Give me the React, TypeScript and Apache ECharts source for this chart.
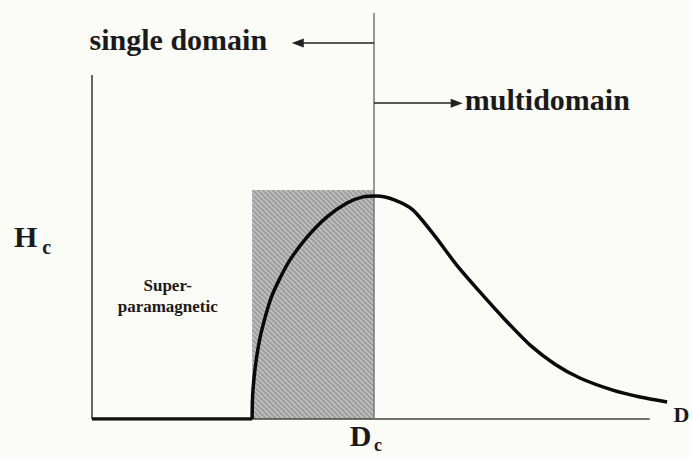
import React, { useEffect, useRef } from "react";
import * as echarts from "echarts";

// Coercivity H_c versus particle diameter D (schematic values, axis units 0-100)
const D_VALUES = [
  27.7, 27.77, 28.03, 28.46, 29.07, 29.93, 30.97, 32.53, 34.26, 37.2, 40.66, 44.12, 46.89, 49.3,
  52.4, 55.5, 59.3, 63.1, 67.1, 71.5, 75.8, 80.1, 84.4, 90.1, 94.8, 99.5,
];
const HC_VALUES = [
  0, 5.2, 10.1, 15.0, 20.0, 24.9, 29.8, 34.7, 39.2, 44.8, 49.8, 53.2, 54.7, 54.9,
  53.9, 51.5, 45.1, 37.9, 31.3, 24.4, 18.2, 13.5, 10.1, 7.1, 5.4, 4.2,
];
const BASELINE_D = [0, 27.7];
const BASELINE_HC = [0, 0];

// Key limits
const D_SP = 27.7; // superparamagnetic limit
const D_C = 48.8; // critical single-domain diameter
const RECT_TOP = 56.4;
const Y_AXIS_TOP = 84.7;
const X_AXIS_END = 96.5;
const SINGLE_ARROW_Y = 92.6;
const SINGLE_ARROW_END = 35.6;
const MULTI_ARROW_Y = 77.8;
const MULTI_ARROW_END = 63.1;

// Text labels and their anchors (data coordinates)
const LABEL_SINGLE = { text: "single domain", at: [30.3, 93.5] };
const LABEL_MULTI = { text: "multidomain", at: [64.5, 78.7] };
const LABEL_SUPER = { text: "Super-\nparamagnetic", at: [13.1, 30.2] };
const LABEL_H = { text: "H", at: [-13.5, 45.0] };
const LABEL_H_SUB = { text: "c", at: [-8.6, 42.3] };
const LABEL_DC = { text: "D", at: [44.6, -4.0] };
const LABEL_DC_SUB = { text: "c", at: [48.8, -6.3] };
const LABEL_D = { text: "D", at: [100.6, 1.2] };

const FONT = '"Liberation Serif", "DejaVu Serif", serif';

function makeHatch() {
  const s = 5;
  const c = document.createElement("canvas");
  c.width = s;
  c.height = s;
  const ctx = c.getContext("2d")!;
  ctx.fillStyle = "#9e9e9e";
  ctx.fillRect(0, 0, s, s);
  ctx.strokeStyle = "#c6c6c6";
  ctx.lineWidth = 1.3;
  ctx.beginPath();
  ctx.moveTo(-1, -1);
  ctx.lineTo(s + 1, s + 1);
  ctx.moveTo(-1, s - 1);
  ctx.lineTo(1, s + 1);
  ctx.moveTo(s - 1, -1);
  ctx.lineTo(s + 1, 1);
  ctx.stroke();
  return c;
}

export default function App() {
  const ref = useRef<HTMLDivElement>(null);

  useEffect(() => {
    if (!ref.current) return;
    const chart = echarts.init(ref.current, undefined, { renderer: "svg" });
    const hatch = makeHatch();
    const curve = D_VALUES.map((d, i) => [d, HC_VALUES[i]]);
    const base = BASELINE_D.map((d, i) => [d, BASELINE_HC[i]]);

    chart.setOption({
      animation: false,
      backgroundColor: "#fbfbf8",
      grid: { left: 92, top: 13, width: 578, height: 406 },
      xAxis: {
        type: "value",
        min: 0,
        max: 100,
        axisLine: { show: false },
        axisTick: { show: false },
        axisLabel: { show: false },
        splitLine: { show: false },
      },
      yAxis: {
        type: "value",
        min: 0,
        max: 100,
        axisLine: { show: false },
        axisTick: { show: false },
        axisLabel: { show: false },
        splitLine: { show: false },
      },
      series: [
        {
          type: "line",
          data: base,
          symbol: "none",
          lineStyle: { color: "#111", width: 3.5 },
          z: 3,
          markLine: {
            silent: true,
            symbol: "none",
            label: { show: false },
            z: 2,
            data: [
              [
                { coord: [0, 0], lineStyle: { color: "#333", width: 1.5, type: "solid" } },
                { coord: [0, Y_AXIS_TOP] },
              ],
              [
                { coord: [0, 0], lineStyle: { color: "#444", width: 1.5, type: "solid" } },
                { coord: [X_AXIS_END, 0] },
              ],
              [
                { coord: [D_C, 0], lineStyle: { color: "#777", width: 1.5, type: "solid" } },
                { coord: [D_C, 100] },
              ],
              [
                {
                  coord: [D_C, SINGLE_ARROW_Y],
                  symbol: "none",
                  lineStyle: { color: "#222", width: 1.5, type: "solid" },
                },
                { coord: [SINGLE_ARROW_END, SINGLE_ARROW_Y], symbol: "triangle", symbolSize: [9, 12] },
              ],
              [
                {
                  coord: [D_C, MULTI_ARROW_Y],
                  symbol: "none",
                  lineStyle: { color: "#222", width: 1.5, type: "solid" },
                },
                { coord: [MULTI_ARROW_END, MULTI_ARROW_Y], symbol: "triangle", symbolSize: [9, 12] },
              ],
            ],
          },
        },
        {
          type: "line",
          data: curve,
          symbol: "none",
          smooth: 0.25,
          lineStyle: { color: "#0a0a0a", width: 3.5 },
          z: 4,
          markArea: {
            silent: true,
            itemStyle: { color: { image: hatch, repeat: "repeat" } as any, borderWidth: 0 },
            data: [[{ coord: [D_SP, 0] }, { coord: [D_C, RECT_TOP] }]],
          },
        },
      ],
    });

    const px = (p: number[]) => chart.convertToPixel({ gridIndex: 0 }, p) as number[];
    const txt = (
      l: { text: string; at: number[] },
      size: number,
      align: string,
      weight = "bold",
      lineHeight?: number
    ) => {
      const p = px(l.at);
      return {
        type: "text",
        x: p[0],
        y: p[1],
        z: 10,
        style: {
          text: l.text,
          fill: "#1a1a1a",
          fontSize: size,
          fontWeight: weight,
          fontFamily: FONT,
          align,
          verticalAlign: "middle",
          lineHeight: lineHeight ?? size,
        },
      };
    };

    chart.setOption({
      graphic: [
        txt(LABEL_SINGLE, 30, "right"),
        txt(LABEL_MULTI, 30, "left"),
        txt(LABEL_SUPER, 17, "center", "bold", 21),
        txt(LABEL_H, 30, "left"),
        txt(LABEL_H_SUB, 20, "left"),
        txt(LABEL_DC, 30, "left"),
        txt(LABEL_DC_SUB, 18, "left"),
        txt(LABEL_D, 22, "left"),
      ],
    });

    return () => chart.dispose();
  }, []);

  return (
    <div
      ref={ref}
      style={{ position: "absolute", left: 0, top: 0, width: 692, height: 457 }}
    />
  );
}
